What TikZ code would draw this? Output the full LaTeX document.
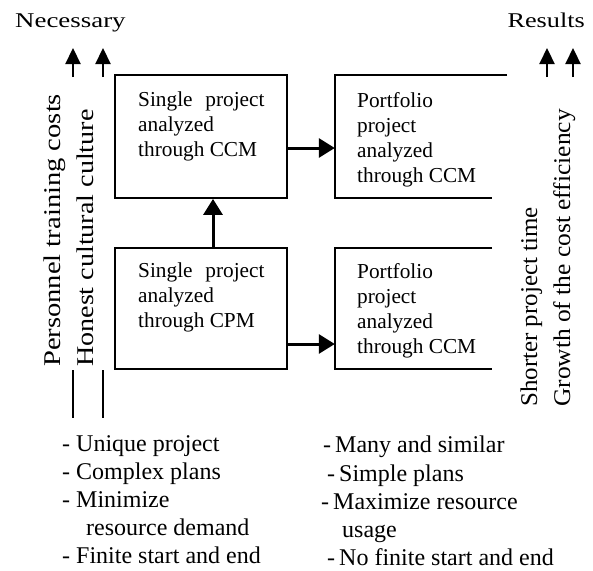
\documentclass[tikz,border=0pt]{standalone}
\usepackage{fontspec}
\setmainfont{Liberation Serif}
\usetikzlibrary{arrows.meta}
\begin{document}
\begin{tikzpicture}[x=1pt,y=-1pt,
  frame/.style={line width=1.8pt},
  boxtext/.style={anchor=north west, inner sep=0pt, align=left, font=\fontsize{21.3}{25}\selectfont},
  listtext/.style={anchor=north west, inner sep=0pt, align=left, font=\fontsize{24}{28.2}\selectfont},
  rottext/.style={anchor=base west, inner sep=0pt, rotate=90, font=\fontsize{24}{28}\selectfont},
  headtext/.style={inner sep=0pt, font=\fontsize{21}{25}\selectfont},
  bigarrow/.style={line width=3pt, -{Triangle[length=16pt,width=19pt]}},
  uparrow/.style={line width=2.2pt, -{Triangle[length=16pt,width=15pt]}},
  bar/.style={line width=2.5pt}
]
\useasboundingbox (0,0) rectangle (593,570);

% boxes
\node[draw, frame, minimum width=172pt, minimum height=123pt, inner sep=0pt] (s1) at (201,136.5) {};
\node[draw, frame, minimum width=172pt, minimum height=121pt, inner sep=0pt] (s2) at (201,308.5) {};
\node[minimum width=157pt, minimum height=123pt, inner sep=0pt] (p1) at (413.5,136.5) {};
\node[minimum width=157pt, minimum height=121pt, inner sep=0pt] (p2) at (413.5,308.5) {};
\draw[frame] ([xshift=15pt]p1.north east) -- (p1.north west) -- (p1.south west) -- (p1.south east);
\draw[frame] (p2.north east) -- (p2.north west) -- (p2.south west) -- (p2.south east);

% box texts
\node[boxtext] (t1) at (138,92) {Single\hspace{0.35em} project\\analyzed\\through CCM};
\node[boxtext] (t2) at (138,263) {Single\hspace{0.35em} project\\analyzed\\through CPM};
\node[boxtext] (t3) at (357,92) {Portfolio\\project\\analyzed\\through CCM};
\node[boxtext] (t4) at (357,263) {Portfolio\\project\\analyzed\\through CCM};

% arrows between boxes
\draw[bigarrow] ([yshift=-11.5pt]s1.east) -- ([yshift=-11.5pt]p1.west);
\draw[bigarrow] ([yshift=-35.5pt]s2.east) -- ([yshift=-35.5pt]p2.west);
\draw[bigarrow] ([xshift=12pt]s2.north) -- ([xshift=12pt]s1.south);

% headings
\node[headtext, anchor=base west] (nec) at (15,27) {\scalebox{1.28}[1]{Necessary}};
\node[headtext, anchor=base east] (res) at (585,27) {\scalebox{1.25}[1]{Results}};

% up arrows
\coordinate (a1s) at (73,77);  \coordinate (a1e) at (73,48);
\coordinate (a2s) at (103,77); \coordinate (a2e) at (103,48);
\coordinate (a3s) at (547,77); \coordinate (a3e) at (547,48);
\coordinate (a4s) at (573,77); \coordinate (a4e) at (573,48);
\draw[uparrow] (a1s) -- (a1e);
\draw[uparrow] (a2s) -- (a2e);
\draw[uparrow] (a3s) -- (a3e);
\draw[uparrow] (a4s) -- (a4e);

% rotated texts
\node[rottext] (r1) at (60,367) {\scalebox{1.19}[1]{Personnel training costs}};
\node[rottext] (r2) at (93,367) {\scalebox{1.17}[1]{Honest cultural culture}};
\node[rottext] (r3) at (537,407) {\scalebox{1.04}[1]{Shorter project time}};
\node[rottext] (r4) at (570,407) {\scalebox{1.06}[1]{Growth of the cost efficiency}};

% bars
\coordinate (b1s) at (73,370);  \coordinate (b1e) at (73,418);
\coordinate (b2s) at (103,370); \coordinate (b2e) at (103,418);
\draw[bar] (b1s) -- (b1e);
\draw[bar] (b2s) -- (b2e);

% lists
\node[listtext] (l1) at (62,435) {- Unique project\\- Complex plans\\- Minimize\\\hspace*{24pt}resource demand\\- Finite start and end};
\node[listtext] (l2) at (321,436) {\hspace*{2pt}-\,Many and similar\\\hspace*{6pt}-\,Simple plans\\-\,Maximize resource\\\hspace*{21pt}usage\\\hspace*{6pt}-\,No finite start and end};
\end{tikzpicture}
\end{document}
